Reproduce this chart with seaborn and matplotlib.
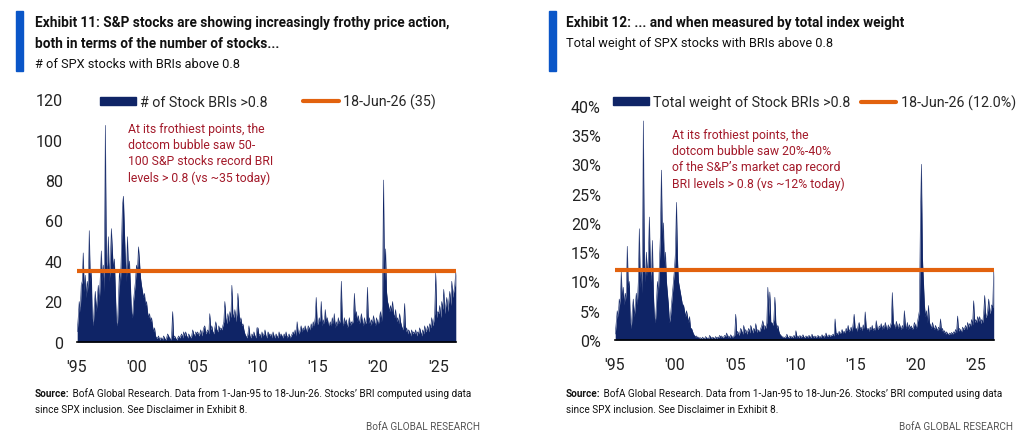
import numpy as np
import pandas as pd
import matplotlib
matplotlib.use("Agg")
import matplotlib.pyplot as plt
import seaborn as sns
from matplotlib.patches import Patch
from matplotlib.lines import Line2D

# monthly values, Jan-1995 .. Jun-2026
stock_count = [
    5, 12, 20, 15, 28, 30, 44, 25, 33, 22, 30, 26,      # 1995
    55, 30, 35, 12, 8, 18, 25, 15, 22, 28, 20, 32,      # 1996
    45, 30, 38, 25, 107, 40, 35, 52, 30, 40, 56, 45,    # 1997
    36, 41, 25, 10, 8, 20, 35, 28, 45, 67, 72, 55,      # 1998
    40, 30, 52, 35, 40, 28, 15, 12, 20, 25, 30, 38,     # 1999
    35, 47, 40, 32, 28, 25, 22, 24, 18, 20, 15, 12,     # 2000
    14, 10, 12, 8, 5, 7, 3, 2, 2, 3, 1, 2,              # 2001
    2, 1, 3, 2, 1, 2, 4, 3, 2, 1, 3, 15,                # 2002
    2, 3, 2, 1, 2, 3, 2, 3, 4, 2, 5, 3,                 # 2003
    5, 3, 2, 4, 3, 2, 3, 6, 4, 3, 5, 4,                 # 2004
    5, 3, 4, 6, 3, 5, 7, 8, 4, 5, 6, 4,                 # 2005
    14, 6, 8, 5, 4, 7, 10, 6, 5, 8, 6, 7,               # 2006
    6, 8, 10, 20, 12, 9, 14, 10, 15, 12, 28, 14,        # 2007
    12, 16, 10, 14, 24, 15, 10, 12, 8, 9, 6, 4,         # 2008
    3, 2, 4, 8, 3, 2, 4, 3, 5, 3, 2, 7,                 # 2009
    7, 3, 4, 2, 5, 3, 4, 6, 3, 2, 5, 4,                 # 2010
    3, 4, 2, 5, 3, 2, 4, 3, 2, 5, 3, 4,                 # 2011
    3, 2, 4, 3, 5, 2, 3, 4, 2, 3, 4, 5,                 # 2012
    4, 6, 3, 10, 5, 4, 6, 8, 5, 7, 6, 8,                # 2013
    6, 5, 8, 7, 6, 9, 7, 10, 8, 12, 22, 9,              # 2014
    9, 12, 10, 20, 8, 11, 9, 16, 10, 12, 9, 8,          # 2015
    10, 8, 12, 9, 14, 7, 10, 8, 12, 9, 11, 30,          # 2016
    10, 8, 12, 9, 11, 7, 9, 12, 8, 10, 9, 11,           # 2017
    24, 12, 15, 10, 13, 9, 11, 14, 10, 8, 12, 9,        # 2018
    10, 27, 9, 12, 8, 11, 9, 13, 10, 8, 12, 10,         # 2019
    9, 12, 15, 10, 18, 80, 30, 46, 25, 20, 18, 15,      # 2020
    18, 15, 20, 14, 12, 16, 10, 12, 9, 14, 10, 8,       # 2021
    6, 8, 19, 5, 7, 4, 6, 5, 3, 6, 4, 5,                # 2022
    4, 6, 3, 5, 4, 7, 5, 3, 6, 4, 8, 5,                 # 2023
    6, 8, 5, 9, 7, 12, 8, 10, 14, 34, 12, 15,           # 2024
    14, 18, 12, 20, 16, 26, 14, 18, 22, 15, 20, 25,     # 2025
    18, 30, 22, 25, 28, 35,                             # 2026
]

total_weight = [
    1, 3, 5, 4, 7, 6, 11.6, 7, 9, 6, 8, 7,                      # 1995
    16, 9, 10, 3, 2, 5, 7, 4, 6, 8, 6, 10,                      # 1996
    19, 9, 12, 8, 37.4, 13, 10, 15, 11, 14, 21, 12,             # 1997
    10, 17, 8, 4, 3, 6, 10, 8, 13, 18, 29, 16,                  # 1998
    20, 12, 15, 10, 8, 6, 3, 4, 6, 8, 10, 12,                   # 1999
    15, 23.5, 14, 10, 9, 8, 7, 6, 6, 5, 4, 5,                   # 2000
    4, 3, 4, 2, 2, 1.5, 1, 0.8, 0.5, 0.7, 0.4, 0.5,             # 2001
    0.3, 0.4, 0.2, 0.5, 0.3, 0.2, 0.6, 0.4, 0.3, 0.2, 0.8, 0.5, # 2002
    0.3, 0.5, 0.4, 0.2, 0.6, 0.3, 0.5, 0.4, 0.8, 0.5, 0.7, 0.4, # 2003
    0.5, 0.8, 0.6, 1.2, 0.5, 0.7, 0.4, 0.9, 0.6, 0.5, 0.7, 0.8, # 2004
    4.4, 1, 1.5, 0.8, 1.2, 2, 1.5, 1, 2.5, 1.2, 1.8, 1,         # 2005
    1.5, 2, 1.2, 2.5, 1.8, 1.2, 2, 1.5, 2.8, 1.3, 1.8, 1.5,     # 2006
    1.5, 2, 2.5, 3.3, 1.8, 2.5, 2, 3, 9, 4, 8.2, 3,             # 2007
    3, 2.5, 3.5, 7.3, 3, 2, 2.5, 1.5, 1, 0.8, 0.6, 0.5,         # 2008
    0.5, 0.4, 0.6, 1, 0.5, 0.4, 0.7, 0.5, 0.6, 0.4, 0.8, 0.5,   # 2009
    1.6, 0.5, 0.7, 0.4, 0.8, 0.5, 0.6, 0.9, 0.5, 0.4, 0.7, 0.6, # 2010
    0.5, 0.8, 0.6, 0.4, 1, 0.6, 0.5, 0.7, 0.4, 0.6, 0.8, 0.5,   # 2011
    0.6, 0.5, 0.9, 0.7, 0.5, 0.8, 1.2, 0.6, 0.7, 0.9, 0.6, 0.8, # 2012
    0.8, 1, 0.7, 3.6, 1, 1.2, 0.9, 1.5, 1.1, 1.3, 1.8, 1.2,     # 2013
    1.5, 1.2, 2, 1.6, 2.5, 1.4, 1.8, 2.2, 1.5, 2.8, 4.4, 2,     # 2014
    2, 1.5, 2.5, 3, 1.8, 2.2, 1.6, 2.6, 2, 4.8, 2.2, 1.8,       # 2015
    2, 1.5, 2.2, 1.8, 2.5, 1.6, 2, 1.7, 3.3, 2, 1.8, 2.4,       # 2016
    2.2, 2.8, 1.8, 2.5, 2, 3, 2.2, 1.8, 2.6, 2, 2.4, 3,         # 2017
    8.1, 3, 2.5, 2, 3.2, 2.4, 2, 2.8, 2.2, 1.8, 2.5, 2,         # 2018
    5, 2.5, 2, 3, 1.8, 2.6, 2, 2.4, 1.8, 2.2, 3, 2.5,           # 2019
    2, 3, 4, 5, 20.6, 30, 14, 10, 6, 4, 5, 3,                   # 2020
    5.9, 3, 2.5, 2, 3, 2.2, 1.8, 2.5, 2, 1.6, 2.2, 1.8,         # 2021
    3.6, 1.5, 2, 1.2, 1.6, 1, 1.4, 1.1, 0.9, 1.2, 1, 1.3,       # 2022
    1, 1.4, 1.2, 1.8, 1.3, 4.1, 1.5, 2, 1.6, 1.4, 2.2, 1.8,     # 2023
    2, 2.5, 1.8, 3, 2.2, 2.8, 2.4, 3.5, 2.6, 6.7, 3, 3.5,       # 2024
    3, 4, 3.2, 4, 2.8, 3.5, 3, 4.5, 7.6, 3.8, 4.2, 5,           # 2025
    7, 4.5, 5, 6, 5.5, 12.0,                                    # 2026
]

year_ticks = [1995, 2000, 2005, 2010, 2015, 2020, 2025]
year_labels = ["'95", "'00", "'05", "'10", "'15", "'20", "'25"]
count_ticks = [0, 20, 40, 60, 80, 100, 120]
weight_ticks = [0, 5, 10, 15, 20, 25, 30, 35, 40]

navy = "#0f2466"
orange = "#e2620e"
darkred = "#a31a2a"
blue_bar = "#0a56c8"
font_size = 10

sns.set_theme(style="white")
plt.rcParams['font.family'] = ['Roboto', 'DejaVu Sans']

n = len(stock_count)
dates = 1995 + (np.arange(n) + 0.5) / 12
df = pd.DataFrame({'date': dates, 'count': stock_count, 'weight': total_weight})
df['count_now'] = stock_count[-1]
df['weight_now'] = total_weight[-1]

fig = plt.figure(figsize=(10.24, 4.39), dpi=100)
ax1 = fig.add_axes([0.0749, 0.2187, 0.3702, 0.5535])
ax2 = fig.add_axes([0.6003, 0.2232, 0.3701, 0.5338])


def draw_panel(ax, col, now_col, ymax, ticks, fmt, leg_labels, leg_x, leg_y, colspace, note, note_xy):
    ax.fill_between(df['date'], 0, df[col], color=navy, linewidth=0)
    sns.lineplot(data=df, x='date', y=col, ax=ax, color=navy, linewidth=0.4)
    sns.lineplot(data=df, x='date', y=now_col, ax=ax, color=orange, linewidth=3)
    ax.set_xlim(1995, dates[-1])
    ax.set_ylim(0, ymax)
    ax.set_xticks(year_ticks)
    ax.set_xticklabels(year_labels, fontsize=font_size + 1.5)
    ax.set_yticks(ticks)
    ax.set_yticklabels([fmt(t) for t in ticks], fontsize=font_size + 1.5)
    ax.set_xlabel("")
    ax.set_ylabel("")
    for s in ['top', 'right', 'left']:
        ax.spines[s].set_visible(False)
    ax.spines['bottom'].set_color('black')
    ax.spines['bottom'].set_linewidth(1.2)
    ax.tick_params(axis='y', length=0, pad=10, colors='#222222')
    ax.tick_params(axis='x', length=0, pad=12, colors='#222222')
    handles = [Patch(facecolor=navy, edgecolor=navy),
               Line2D([0], [0], color=orange, lw=3)]
    ax.legend(handles, leg_labels, ncol=2, frameon=False, fontsize=font_size + 0.3,
              loc='center left', bbox_to_anchor=(leg_x, leg_y), handlelength=2.5,
              handleheight=0.5, columnspacing=colspace, handletextpad=0.3,
              borderaxespad=0, borderpad=0)
    ax.text(note_xy[0], note_xy[1], note, transform=ax.transAxes, color=darkred,
            fontsize=font_size - 1.2, va='top', ha='left', linespacing=1.3)


draw_panel(ax1, 'count', 'count_now', 120, count_ticks, lambda t: f"{t}",
           ["# of Stock BRIs >0.8", "18-Jun-26 (35)"], 0.061, 0.99, 2.5,
           "At its frothiest points, the\ndotcom bubble saw 50-\n100 S&P stocks record BRI\nlevels > 0.8 (vs ~35 today)",
           (0.135, 0.905))
draw_panel(ax2, 'weight', 'weight_now', 40, weight_ticks, lambda t: f"{t}%",
           ["Total weight of Stock BRIs >0.8", "18-Jun-26 (12.0%)"], -0.004, 1.015, 0.7,
           "At its frothiest points, the\ndotcom bubble saw 20%-40%\nof the S&P\u2019s market cap record\nBRI levels > 0.8 (vs ~12% today)",
           (0.151, 0.905))

# headers
for x0 in [0.0156, 0.5361]:
    fig.patches.append(plt.Rectangle((x0, 1 - 72 / 439), 0.007, 60 / 439,
                                     transform=fig.transFigure, color=blue_bar))

fig.text(35 / 1024, 1 - 23 / 439, "Exhibit 11: S&P stocks are showing increasingly frothy price action,",
         fontsize=9.8, fontweight='bold', va='center', color='#111111')
fig.text(35 / 1024, 1 - 44 / 439, "both in terms of the number of stocks...",
         fontsize=9.8, fontweight='bold', va='center', color='#111111')
fig.text(35 / 1024, 1 - 64 / 439, "# of SPX stocks with BRIs above 0.8",
         fontsize=font_size - 0.8, va='center', color='#111111')
fig.text(566 / 1024, 1 - 23 / 439, "Exhibit 12: ... and when measured by total index weight",
         fontsize=9.8, fontweight='bold', va='center', color='#111111')
fig.text(566 / 1024, 1 - 44 / 439, "Total weight of SPX stocks with BRIs above 0.8",
         fontsize=font_size - 0.8, va='center', color='#111111')

# footers
renderer = fig.canvas.get_renderer()
src = " BofA Global Research. Data from 1-Jan-95 to 18-Jun-26. Stocks\u2019 BRI computed using data"
for x0, xr in [(35, 480), (566, 1013)]:
    t = fig.text(x0 / 1024, 1 - 394 / 439, "Source:", fontsize=7.2,
                 fontweight='bold', va='center', color='#111111')
    w = t.get_window_extent(renderer).width
    fig.text((x0 + w) / 1024, 1 - 394 / 439, src, fontsize=7.2,
             va='center', color='#111111')
    fig.text(x0 / 1024, 1 - 410 / 439, "since SPX inclusion. See Disclaimer in Exhibit 8.",
             fontsize=7.2, va='center', color='#111111')
    fig.text(xr / 1024, 1 - 427 / 439, "BofA GLOBAL RESEARCH", fontsize=7.2,
             va='center', ha='right', color='#555555')

plt.savefig('out.png', dpi=100)
